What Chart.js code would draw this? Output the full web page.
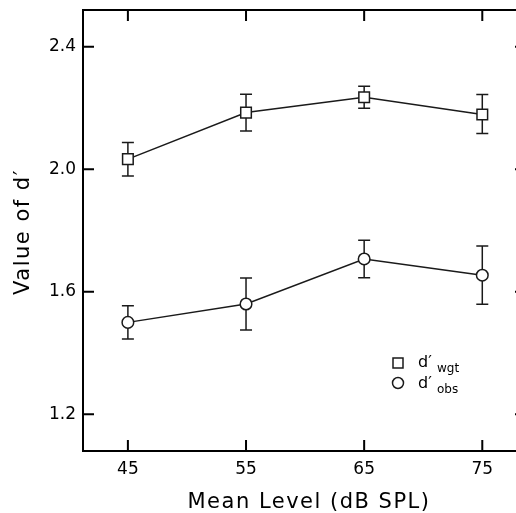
<!DOCTYPE html>
<html>
<head>
<meta charset="utf-8">
<script src="https://cdn.jsdelivr.net/npm/chart.js@4"></script>
<style>
  html, body { margin: 0; padding: 0; background: #fff; overflow: hidden; }
  #wrap { width: 516px; height: 513px; overflow: hidden; }
</style>
</head>
<body>
<div id="wrap"><canvas id="chart" width="540" height="513"></canvas></div>
<script>
// values
const levels = [45, 55, 65, 75]
const dWgt = [2.033, 2.185, 2.235, 2.179]
const dWgtLo = [1.978, 2.125, 2.199, 2.117]
const dWgtHi = [2.087, 2.245, 2.271, 2.244]
const dObs = [1.500, 1.560, 1.707, 1.654]
const dObsLo = [1.446, 1.475, 1.646, 1.559]
const dObsHi = [1.554, 1.645, 1.768, 1.749]
const xTicks = [45, 55, 65, 75]
const yTicks = [1.2, 1.6, 2.0, 2.4]

const ink = '#1a1a1a'
const tickFont = { family: '"DejaVu Sans", sans-serif', size: 17 }

function points(ys) {
    return levels.map((x, i) => ({ x: x, y: ys[i] }))
}

const errorBars = {
    id: 'errorBars',
    beforeDatasetsDraw(chart) {
        const ctx = chart.ctx
        const xs = chart.scales.x, ys = chart.scales.y
        ctx.save()
        ctx.strokeStyle = ink
        ctx.lineWidth = 1.5
        chart.data.datasets.forEach(ds => {
            levels.forEach((lv, i) => {
                const px = xs.getPixelForValue(lv)
                const top = ys.getPixelForValue(ds.hi[i])
                const bot = ys.getPixelForValue(ds.lo[i])
                ctx.beginPath()
                ctx.moveTo(px, top); ctx.lineTo(px, bot)
                ctx.moveTo(px - 6, top); ctx.lineTo(px + 6, top)
                ctx.moveTo(px - 6, bot); ctx.lineTo(px + 6, bot)
                ctx.stroke()
            })
        })
        ctx.restore()
    }
}

const frame = {
    id: 'frame',
    afterDraw(chart) {
        const ctx = chart.ctx
        const a = chart.chartArea
        const xs = chart.scales.x, ys = chart.scales.y
        const tl = 11
        ctx.save()
        ctx.strokeStyle = '#000'
        ctx.lineWidth = 2
        ctx.strokeRect(a.left, a.top, a.right - a.left, a.bottom - a.top)
        ctx.beginPath()
        xs.ticks.forEach(t => {
            const px = xs.getPixelForValue(t.value)
            ctx.moveTo(px, a.bottom); ctx.lineTo(px, a.bottom - tl)
            ctx.moveTo(px, a.top); ctx.lineTo(px, a.top + tl)
        })
        ys.ticks.forEach(t => {
            const py = ys.getPixelForValue(t.value)
            ctx.moveTo(a.left, py); ctx.lineTo(a.left + tl, py)
            ctx.moveTo(a.right, py); ctx.lineTo(a.right - tl, py)
        })
        ctx.stroke()

        // axis titles
        ctx.fillStyle = '#000'
        ctx.font = '21px "DejaVu Sans", sans-serif'
        ctx.letterSpacing = '1.5px'
        ctx.textAlign = 'center'
        ctx.textBaseline = 'alphabetic'
        ctx.fillText('Mean Level (dB SPL)', 309, 508)
        ctx.save()
        ctx.translate(29, 232)
        ctx.rotate(-Math.PI / 2)
        ctx.fillText('Value of d\u2032', 0, 0)
        ctx.restore()
        ctx.letterSpacing = '0px'

        // legend
        ctx.strokeStyle = ink
        ctx.lineWidth = 1.5
        ctx.fillStyle = '#fff'
        ctx.beginPath()
        ctx.rect(393, 358, 10, 10)
        ctx.fill(); ctx.stroke()
        ctx.beginPath()
        ctx.arc(398, 383, 5.5, 0, Math.PI * 2)
        ctx.fill(); ctx.stroke()
        ctx.fillStyle = '#000'
        ctx.textAlign = 'left'
        const rows = [['wgt', 367], ['obs', 388]]
        rows.forEach(r => {
            ctx.font = '16px "DejaVu Sans", sans-serif'
            ctx.fillText('d\u2032', 418, r[1])
            ctx.font = '12px "DejaVu Sans", sans-serif'
            ctx.fillText(r[0], 437, r[1] + 5)
        })
        ctx.restore()
    }
}

new Chart(document.getElementById('chart'), {
    type: 'line',
    data: {
        datasets: [
            {
                label: 'd\u2032wgt', data: points(dWgt), lo: dWgtLo, hi: dWgtHi,
                borderColor: ink, borderWidth: 1.5,
                pointStyle: 'rect', pointRadius: 7.5,
                pointBackgroundColor: '#fff', pointBorderColor: ink, pointBorderWidth: 1.5
            },
            {
                label: 'd\u2032obs', data: points(dObs), lo: dObsLo, hi: dObsHi,
                borderColor: ink, borderWidth: 1.5,
                pointStyle: 'circle', pointRadius: 5.8,
                pointBackgroundColor: '#fff', pointBorderColor: ink, pointBorderWidth: 1.5
            }
        ]
    },
    options: {
        responsive: false,
        animation: false,
        layout: { padding: { left: 0, top: 10, right: 14, bottom: 0 } },
        plugins: { legend: { display: false }, tooltip: { enabled: false } },
        scales: {
            x: {
                type: 'linear', min: 41.2, max: 78.7,
                grid: { display: false, drawTicks: false },
                border: { display: false },
                ticks: { color: '#000', font: tickFont, padding: 8, maxRotation: 0 },
                afterBuildTicks: s => { s.ticks = xTicks.map(v => ({ value: v })) },
                afterFit: s => { s.height = 62; s.paddingLeft = 0; s.paddingRight = 0 }
            },
            y: {
                type: 'linear', min: 1.08, max: 2.52,
                grid: { display: false, drawTicks: false },
                border: { display: false },
                ticks: { color: '#000', font: tickFont, padding: 7, callback: v => v.toFixed(1) },
                afterBuildTicks: s => { s.ticks = yTicks.map(v => ({ value: v })) },
                afterFit: s => { s.width = 83; s.paddingTop = 0; s.paddingBottom = 0 }
            }
        }
    },
    plugins: [errorBars, frame]
})
</script>
</body>
</html>
